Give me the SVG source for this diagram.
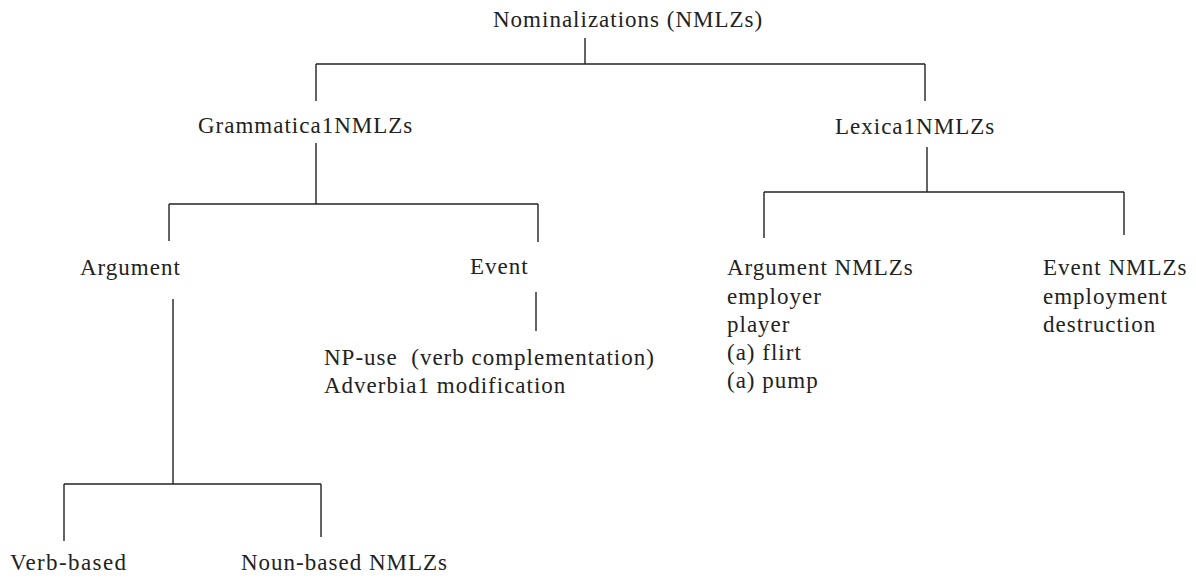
<svg xmlns="http://www.w3.org/2000/svg" width="1196" height="578" viewBox="0 0 1196 578">
<style>
text{font-family:"Liberation Serif","Times New Roman",serif;font-size:23px;fill:#222;letter-spacing:1px;white-space:pre}
.c line{stroke:#222;stroke-width:1.4;fill:none}
</style>
<rect width="1196" height="578" fill="#fff"/>
<g id="connectors" class="c">
<line x1="585" y1="38" x2="585" y2="64"/>
<line x1="316" y1="64" x2="925" y2="64"/>
<line x1="316" y1="64" x2="316" y2="101"/>
<line x1="925" y1="64" x2="925" y2="101"/>
<line x1="316" y1="143" x2="316" y2="204"/>
<line x1="169" y1="204" x2="538" y2="204"/>
<line x1="169" y1="204" x2="169" y2="241"/>
<line x1="538" y1="204" x2="538" y2="242"/>
<line x1="173" y1="299" x2="173" y2="484"/>
<line x1="64" y1="484" x2="321" y2="484"/>
<line x1="64" y1="484" x2="64" y2="541"/>
<line x1="321" y1="484" x2="321" y2="537"/>
<line x1="536" y1="292" x2="536" y2="331"/>
<line x1="927" y1="147" x2="927" y2="192"/>
<line x1="764" y1="192" x2="1124" y2="192"/>
<line x1="764" y1="192" x2="764" y2="238"/>
<line x1="1124" y1="192" x2="1124" y2="235"/>
</g>
<g id="root"><text x="493" y="27">Nominalizations (NMLZs)</text></g>
<g id="grammatical"><text x="198" y="133">Grammatica1NMLZs</text></g>
<g id="lexical"><text x="835" y="134">Lexica1NMLZs</text></g>
<g id="argument"><text x="80" y="275">Argument</text></g>
<g id="event"><text x="470" y="274">Event</text></g>
<g id="event-uses"><text x="324" y="365">NP-use  (verb complementation)</text><text x="324" y="393">Adverbia1 modification</text></g>
<g id="argument-nmlzs"><text x="727" y="275">Argument NMLZs</text><text x="727" y="304">employer</text><text x="727" y="332">player</text><text x="727" y="360">(a) flirt</text><text x="727" y="388">(a) pump</text></g>
<g id="event-nmlzs"><text x="1043" y="275">Event NMLZs</text><text x="1043" y="304">employment</text><text x="1043" y="332">destruction</text></g>
<g id="verb-based"><text x="10" y="570" textLength="117" lengthAdjust="spacing">Verb-based</text></g>
<g id="noun-based"><text x="241" y="570">Noun-based NMLZs</text></g>
</svg>
